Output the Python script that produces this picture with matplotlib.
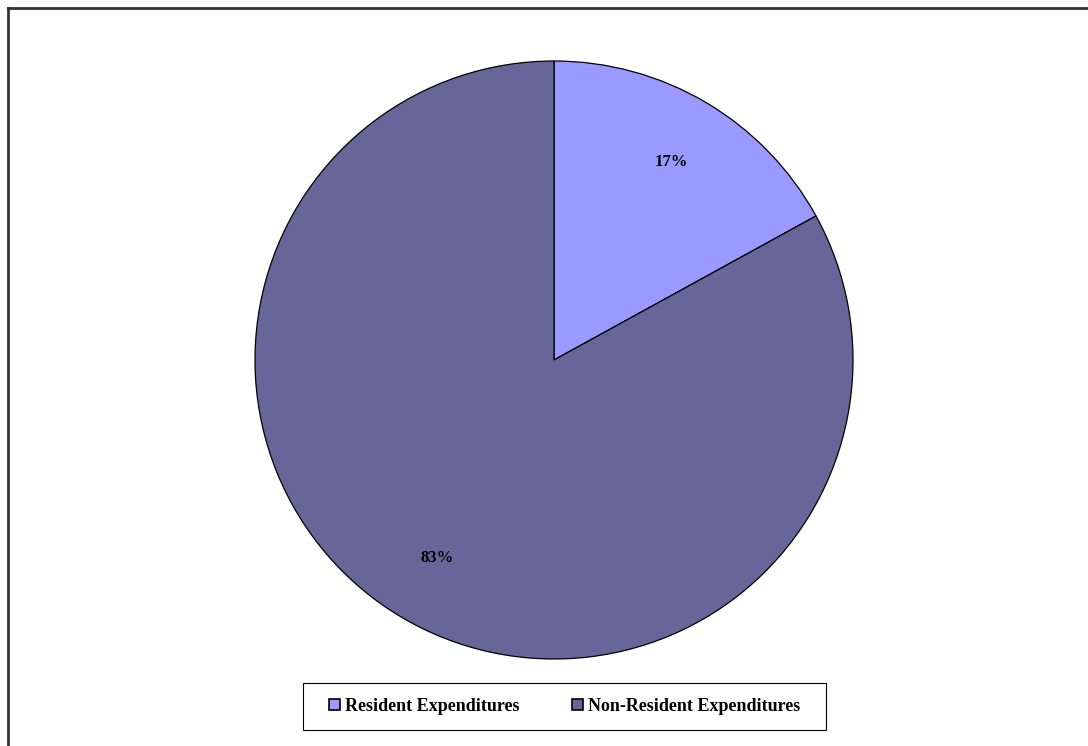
import matplotlib.pyplot as plt
from matplotlib.lines import Line2D
from matplotlib.patches import Patch, Rectangle

# data #
########

labels = ['Resident Expenditures', 'Non-Resident Expenditures']
shares = [17, 83]
colors = ['#9999FF', '#666699']

plt.rcParams['font.family'] = ['Liberation Serif', 'DejaVu Serif']

W, H = 1088, 746
fig = plt.figure(figsize=(W / 100, H / 100), dpi=100)

# pie sits in a square axes, radius ~299 px centred at (554, 360)
cx, cy, r = 554, 360, 299
ax = fig.add_axes([(cx - r) / W, (H - cy - r) / H, 2 * r / W, 2 * r / H])

wedges, _, autotexts = ax.pie(shares, colors=colors, startangle=90,
                              counterclock=False, radius=1.0,
                              autopct='%d%%', pctdistance=0.77,
                              wedgeprops=dict(edgecolor='black', linewidth=0.9))
for t in autotexts:
    t.set_fontsize(12)
    t.set_fontweight('bold')
    t.set_color('black')
ax.set_xlim(-1.0, 1.0)
ax.set_ylim(-1.0, 1.0)
ax.set_aspect('equal')
ax.axis('off')

# chart area border (left and top edges only)
fx = 7.5 / W
fy = 1 - 7.5 / H
fig.add_artist(Line2D([fx, fx], [0, fy], transform=fig.transFigure,
                      color='#333333', linewidth=2))
fig.add_artist(Line2D([fx, 1], [fy, fy], transform=fig.transFigure,
                      color='#333333', linewidth=2))

# legend box drawn separately so it can be wider than the entries
lx0, ly0, lx1, ly1 = 303, 683, 826, 730
fig.add_artist(Rectangle((lx0 / W, 1 - ly1 / H), (lx1 - lx0) / W,
                         (ly1 - ly0) / H, transform=fig.transFigure,
                         facecolor='white', edgecolor='black', linewidth=0.8))

handles = [Patch(facecolor=c, edgecolor='black', linewidth=1.2) for c in colors]
leg = fig.legend(handles, labels, loc='center',
                 bbox_to_anchor=((lx0 + lx1) / 2 / W, 1 - (ly0 + ly1) / 2 / H),
                 ncol=2, frameon=False,
                 prop=dict(family='Liberation Serif', weight='bold', size=13),
                 handlelength=0.6, handleheight=0.6, handletextpad=0.3,
                 columnspacing=2.9, borderpad=0, borderaxespad=0)

fig.savefig('out.png', dpi=100)
